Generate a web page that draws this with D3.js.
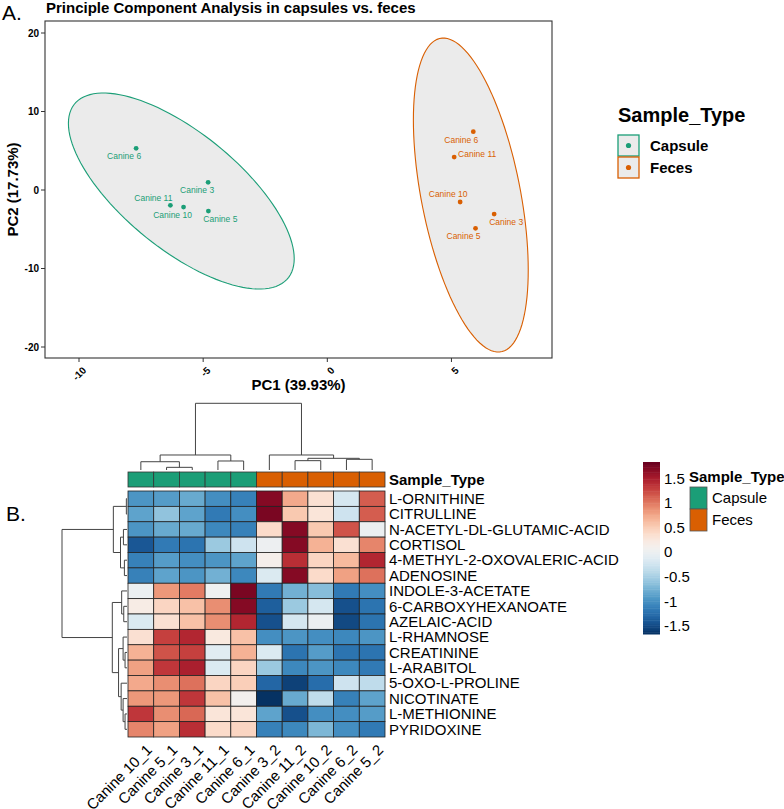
<!DOCTYPE html>
<html><head><meta charset="utf-8">
<script src="https://cdn.jsdelivr.net/npm/d3@7"></script>
<style>body{margin:0;background:#fff;} svg{display:block;font-family:"Liberation Sans", Arial, Helvetica, sans-serif;}</style>
</head><body><svg id="c" width="784" height="809"></svg>
<script>
// ---------------- PCA data ----------------
const pcaSamples = ["Canine 6","Canine 3","Canine 11","Canine 10","Canine 5","Canine 6","Canine 11","Canine 10","Canine 3","Canine 5"];
const pcaGroup = ["Capsule","Capsule","Capsule","Capsule","Capsule","Feces","Feces","Feces","Feces","Feces"];
const pc1 = [-7.70,-4.80,-6.32,-5.79,-4.79, 5.88,5.11,5.35,6.72,5.97];
const pc2 = [5.31,0.98,-1.95,-2.17,-2.68, 7.43,4.20,-1.53,-3.06,-4.88];
const groups = ["Capsule","Feces"];
const groupColors = ["#1b9e77","#d95f02"];
// confidence ellipses (centre and covariance, data units)
const ellCx = [-5.88, 5.78];
const ellCy = [-0.13, -0.64];
const ellSxx = [20.68, 5.35];
const ellSyy = [155.9, 400.0];
const ellSxy = [-39.2, -22.1];
const xTicks = [-10,-5,0,5];
const yTicks = [20,10,0,-10,-20];
// label offsets (layout, px)
const labDx = [-12,-11,-17,-11,12, -12,23,-12,12,-12];
const labDy = [8,8,-7,8,8, 8,-3,-8,8,8];

// ---------------- Heatmap data ----------------
const colLabels = ["Canine 10_1","Canine 5_1","Canine 3_1","Canine 11_1","Canine 6_1","Canine 3_2","Canine 11_2","Canine 10_2","Canine 6_2","Canine 5_2"];
const colGroup = ["Capsule","Capsule","Capsule","Capsule","Capsule","Feces","Feces","Feces","Feces","Feces"];
const rowLabels = ["L-ORNITHINE","CITRULLINE","N-ACETYL-DL-GLUTAMIC-ACID","CORTISOL","4-METHYL-2-OXOVALERIC-ACID","ADENOSINE","INDOLE-3-ACETATE","6-CARBOXYHEXANOATE","AZELAIC-ACID","L-RHAMNOSE","CREATININE","L-ARABITOL","5-OXO-L-PROLINE","NICOTINATE","L-METHIONINE","PYRIDOXINE"];
const heatValues = [
  [-0.95,-0.90,-0.80,-1.00,-1.10, 1.70, 0.75, 0.35,-0.20, 1.15],
  [-0.85,-0.60,-0.85,-1.15,-1.00, 1.75, 0.55, 0.30,-0.25, 1.15],
  [-0.95,-0.80,-0.80,-1.05,-1.10, 0.40, 1.70, 0.55, 1.20, 0.00],
  [-1.40,-1.15,-1.20,-0.55,-0.25, 0.02, 1.70, 0.70, 0.35, 0.95],
  [-1.10,-0.90,-1.00,-0.95,-0.85, 0.15, 1.40, 0.45, 0.65, 1.45],
  [-1.10,-0.85,-0.95,-0.75,-1.05,-0.15, 1.70, 0.40, 0.80, 1.05],
  [ 0.00, 0.85, 1.00, 0.05, 1.75,-1.15,-0.75,-0.65,-1.15,-1.00],
  [ 0.20, 0.45, 0.60, 0.90, 1.70,-1.35,-0.55,-0.20,-1.45,-1.20],
  [-0.15, 0.35, 0.60, 0.90, 1.45,-1.45,-0.20, 0.00,-1.50,-1.20],
  [ 0.35, 1.30, 1.45, 0.25, 0.60,-1.00,-0.95,-1.00,-1.05,-0.95],
  [ 0.70, 1.20, 1.30,-0.10, 0.70,-0.15,-1.20,-0.90,-1.20,-1.20],
  [ 0.80, 1.35, 1.50,-0.15, 0.45,-0.55,-1.05,-0.95,-1.05,-1.15],
  [ 0.75, 0.90, 1.05, 0.45, 0.50,-1.30,-1.55,-1.25,-0.25,-0.35],
  [ 0.85, 0.85, 1.35, 0.60, 0.10,-1.65,-0.80,-0.35,-1.10,-0.85],
  [ 1.35, 0.90, 1.10, 0.30, 0.30,-0.85,-1.45,-1.00,-1.00,-0.90],
  [ 0.95, 0.80, 1.40, 0.40, 0.45,-1.10,-1.05,-0.70,-1.00,-1.15]
];
const colorMin = -1.66, colorMax = 1.84;
const legendTicks = [1.5,1,0.5,0,-0.5,-1,-1.5];
// dendrograms, hclust style merges: negative = leaf (1-based), positive = earlier merge
const colMerge = [[-2,-3,0.40],[-1,1,1.24],[-4,-5,1.35],[2,3,2.25],[-7,-8,1.40],[-9,-10,1.60],[5,6,1.75],[-6,7,2.25],[4,8,10]];
const rowMerge = [[-1,-2,0.10],[-3,-4,0.55],[-5,-6,0.40],[2,3,1.00],[1,4,2.10],
                  [-8,-9,0.50],[-7,6,0.82],[-11,-12,0.30],[-10,8,0.60],[-15,-16,0.30],[-14,10,0.60],[-13,11,0.90],[9,12,1.30],[7,13,2.26],[5,14,10]];

// ---------------- drawing ----------------
const svg = d3.select("#c");

// ===== Panel A =====
const px0 = 45, px1 = 552, py0 = 21, py1 = 358;
const x = d3.scaleLinear().domain([-11.37, 9.05]).range([px0, px1]);
const y = d3.scaleLinear().domain([-21.4, 21.53]).range([py1, py0]);

svg.append("text").attr("x",2).attr("y",20).attr("font-size",21).text("A.");
svg.append("text").attr("x",46).attr("y",13).attr("font-size",15).attr("font-weight","bold")
  .text("Principle Component Analysis in capsules vs. feces");

// ellipses
groups.forEach((g,i)=>{
  const a = ellSxx[i], b = ellSxy[i], c = ellSyy[i];
  const l11 = Math.sqrt(a), l21 = b/l11, l22 = Math.sqrt(c - l21*l21);
  const pts = d3.range(0, 361, 3).map(deg=>{
    const t = deg*Math.PI/180, u = Math.cos(t), v = Math.sin(t);
    return [x(ellCx[i] + l11*u), y(ellCy[i] + l21*u + l22*v)];
  });
  svg.append("path").attr("d", d3.line()(pts)+"Z")
    .attr("fill","#ebebeb").attr("stroke", groupColors[i]).attr("stroke-width",1.1);
});

// border
svg.append("rect").attr("x",px0).attr("y",py0).attr("width",px1-px0).attr("height",py1-py0)
  .attr("fill","none").attr("stroke","#333").attr("stroke-width",1.1);

// points and labels
pc1.forEach((v,i)=>{
  const col = groupColors[groups.indexOf(pcaGroup[i])];
  svg.append("circle").attr("cx",x(v)).attr("cy",y(pc2[i])).attr("r",2.4).attr("fill",col);
  svg.append("text").attr("x",x(v)+labDx[i]).attr("y",y(pc2[i])+labDy[i]+3)
    .attr("text-anchor","middle").attr("font-size",8.5).attr("fill",col).text(pcaSamples[i]);
});

// axes
yTicks.forEach(t=>{
  svg.append("line").attr("x1",px0-4).attr("x2",px0).attr("y1",y(t)).attr("y2",y(t)).attr("stroke","#333");
  svg.append("text").attr("x",px0-6).attr("y",y(t)+3.5).attr("text-anchor","end")
    .attr("font-size",10).attr("font-weight","bold").text(t);
});
xTicks.forEach(t=>{
  svg.append("line").attr("x1",x(t)).attr("x2",x(t)).attr("y1",py1).attr("y2",py1+4).attr("stroke","#333");
  svg.append("text").attr("transform",`translate(${x(t)+3},${py1+8}) rotate(-45)`).attr("text-anchor","end")
    .attr("font-size",10).attr("font-weight","bold").attr("dy","0.7em").text(t);
});
svg.append("text").attr("x",(px0+px1)/2).attr("y",390).attr("text-anchor","middle")
  .attr("font-size",15).attr("font-weight","bold").text("PC1 (39.93%)");
svg.append("text").attr("transform",`translate(18,${(py0+py1)/2}) rotate(-90)`).attr("text-anchor","middle")
  .attr("font-size",15).attr("font-weight","bold").text("PC2 (17.73%)");

// legend A
svg.append("text").attr("x",618).attr("y",122).attr("font-size",20).attr("font-weight","bold").text("Sample_Type");
groups.forEach((g,i)=>{
  const yy = 135 + i*22;
  svg.append("rect").attr("x",618).attr("y",yy).attr("width",21).attr("height",21)
    .attr("fill","#ebebeb").attr("stroke",groupColors[i]).attr("stroke-width",1.3);
  svg.append("circle").attr("cx",628.5).attr("cy",yy+10.5).attr("r",2.6).attr("fill",groupColors[i]);
  svg.append("text").attr("x",650).attr("y",yy+16).attr("font-size",15).attr("font-weight","bold").text(g);
});

// ===== Panel B =====
svg.append("text").attr("x",6).attr("y",521).attr("font-size",21).text("B.");
const hx0 = 128, hx1 = 385, hy0 = 491, hy1 = 737;
const cx = d3.scaleBand().domain(d3.range(colLabels.length)).range([hx0,hx1]);
const ry = d3.scaleBand().domain(d3.range(rowLabels.length)).range([hy0,hy1]);
const color = v => d3.interpolateRdBu(1 - (v - colorMin)/(colorMax - colorMin));

// annotation bar
const ay0 = 472, ay1 = 487;
colGroup.forEach((g,j)=>{
  svg.append("rect").attr("x",cx(j)).attr("y",ay0).attr("width",cx.bandwidth()).attr("height",ay1-ay0)
    .attr("fill",groupColors[groups.indexOf(g)]).attr("stroke","#333").attr("stroke-width",0.8);
});
svg.append("text").attr("x",389).attr("y",485).attr("font-size",15).attr("font-weight","bold").text("Sample_Type");

// cells
heatValues.forEach((row,i)=>row.forEach((v,j)=>{
  svg.append("rect").attr("x",cx(j)).attr("y",ry(i)).attr("width",cx.bandwidth()).attr("height",ry.bandwidth())
    .attr("fill",color(v)).attr("stroke","#222").attr("stroke-width",0.8);
}));
// row labels
rowLabels.forEach((r,i)=>{
  svg.append("text").attr("x",389).attr("y",ry(i)+ry.bandwidth()/2+5.3).attr("font-size",15).text(r);
});
// column labels
colLabels.forEach((c,j)=>{
  svg.append("text").attr("transform",`translate(${cx(j)+cx.bandwidth()/2+4},${hy1+6}) rotate(-45)`)
    .attr("text-anchor","end").attr("dy","0.75em").attr("font-size",15).text(c);
});

// dendrogram helper
function dendro(merge, leafPos, hToPx, vertical){
  const pos = [], hh = [];
  const g = svg.append("g").attr("stroke","#444").attr("stroke-width",1).attr("fill","none");
  const getP = k => k<0 ? leafPos(-k-1) : pos[k-1];
  const getH = k => k<0 ? 0 : hh[k-1];
  merge.forEach(([a,b,h],m)=>{
    const pa = getP(a), pb = getP(b), ha = getH(a), hb = getH(b);
    pos[m] = (pa+pb)/2; hh[m] = h;
    let d;
    if(vertical) d = `M${pa},${hToPx(ha)}V${hToPx(h)}H${pb}V${hToPx(hb)}`;
    else d = `M${hToPx(ha)},${pa}H${hToPx(h)}V${pb}H${hToPx(hb)}`;
    g.append("path").attr("d",d);
  });
}
const colH = d3.scaleLinear().domain([0,10]).range([470,403.3]);
dendro(colMerge, j=>cx(j)+cx.bandwidth()/2, colH, true);
const rowH = d3.scaleLinear().domain([0,10]).range([127,62]);
dendro(rowMerge, i=>ry(i)+ry.bandwidth()/2, rowH, false);

// colour bar legend
const lbx = 643, lbw = 17, lby0 = 462, lby1 = 634;
const ly = d3.scaleLinear().domain([colorMin,colorMax]).range([lby1,lby0]);
const nSteps = 100;
d3.range(nSteps).forEach(k=>{
  const v0 = colorMin + (colorMax-colorMin)*k/nSteps, v1 = colorMin + (colorMax-colorMin)*(k+1)/nSteps;
  svg.append("rect").attr("x",lbx).attr("y",ly(v1)).attr("width",lbw).attr("height",ly(v0)-ly(v1)+0.5)
    .attr("fill",color((v0+v1)/2));
});
legendTicks.forEach(t=>{
  svg.append("text").attr("x",lbx+lbw+4).attr("y",ly(t)+5).attr("font-size",15).text(t);
});

// annotation legend
svg.append("text").attr("x",689).attr("y",482).attr("font-size",15).attr("font-weight","bold").text("Sample_Type");
groups.forEach((g,i)=>{
  svg.append("rect").attr("x",690).attr("y",487+i*22).attr("width",17).attr("height",22)
    .attr("fill",groupColors[i]).attr("stroke","#555").attr("stroke-width",0.8);
  svg.append("text").attr("x",712).attr("y",487+i*22+16).attr("font-size",15).text(g);
});
</script></body></html>
